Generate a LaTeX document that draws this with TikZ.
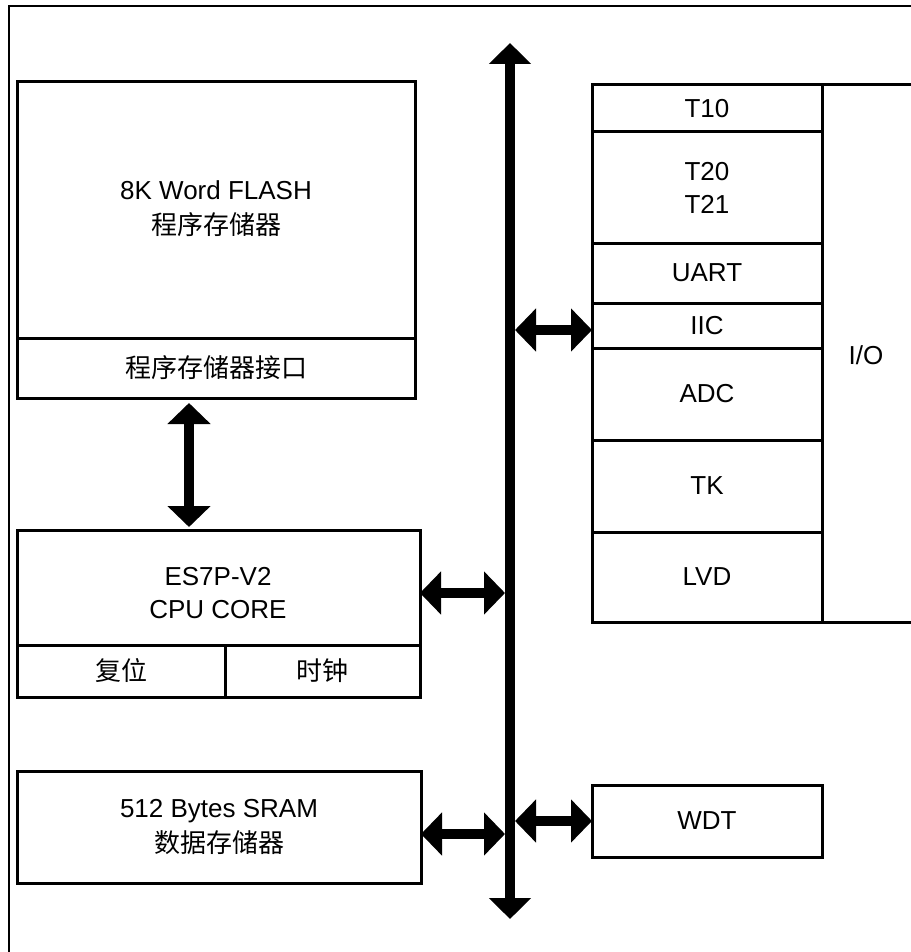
\documentclass[tikz,border=0pt]{standalone}
\usepackage{fontspec}
\setmainfont{Liberation Sans}
\newfontfamily\cjk{Noto Sans CJK SC}
\usetikzlibrary{arrows.meta}
\begin{document}
\begin{tikzpicture}[x=1pt,y=-1pt,
  box/.style={draw,line width=3pt},
  lbl/.style={font=\fontsize{26}{33}\selectfont,align=center,inner sep=0pt},
  fat/.style={line width=10pt,{Triangle[width=42pt,length=21pt]}-{Triangle[width=42pt,length=21pt]}},
  busline/.style={line width=10pt,{Triangle[width=41pt,length=21pt]}-{Triangle[width=41pt,length=21pt]}}]
\useasboundingbox (0,0) rectangle (910,952);
\fill[white] (0,0) rectangle (910,952);
% frame
\draw[line width=2pt] (9,960) -- (9,6) -- (920,6);
% flash
\draw[box] (17,82) rectangle (415,338);
\node[lbl] (flash) at (216,209) {8K Word FLASH\\[2pt]{\cjk 程序存储器}};
\draw[box] (17,338) rectangle (415,398);
\node[lbl] (flashif) at (216,368) {\cjk 程序存储器接口};
\coordinate (fa) at (189,403);
\coordinate (fb) at (189,527);
% cpu
\draw[box] (17,530) rectangle (420,645);
\node[lbl] (cpu) at (218,593) {ES7P-V2\\CPU CORE};
\draw[box] (17,645) rectangle (225,697);
\draw[box] (225,645) rectangle (420,697);
\node[lbl] (rst) at (121,671) {\cjk 复位};
\node[lbl] (clk) at (322,671) {\cjk 时钟};
\coordinate (cpuE) at (420,593);
% sram
\draw[box] (17,771) rectangle (421,883);
\node[lbl] (sram) at (219,827) {512 Bytes SRAM\\[2pt]{\cjk 数据存储器}};
\coordinate (sramE) at (421,834);
% bus
\coordinate (busT) at (510,43);
\coordinate (busB) at (510,919);
\draw[busline] (busT) -- (busB);
\coordinate (busCpu) at (505,593);
\coordinate (busSram) at (505,834);
\coordinate (busIic) at (515,330);
\coordinate (busWdt) at (515,821);
% right block
\draw[box] (592,85) rectangle (822,622);
\draw[line width=3pt] (822,85) -- (920,85);
\draw[line width=3pt] (822,622) -- (920,622);
\foreach \yy in {132,243,303,348,440,532} \draw[line width=3pt] (592,\yy) -- (822,\yy);
\node[lbl] (t10) at (707,108.5) {T10};
\node[lbl] (t20) at (707,187.5) {T20\\T21};
\node[lbl] (uart) at (707,273) {UART};
\node[lbl] (iic) at (707,325.5) {IIC};
\node[lbl] (adc) at (707,394) {ADC};
\node[lbl] (tk) at (707,486) {TK};
\node[lbl] (lvd) at (707,577) {LVD};
\node[lbl] (io) at (866,355) {I/O};
\coordinate (iicW) at (592,330);
% wdt
\draw[box] (592,785) rectangle (822,857);
\node[lbl] (wdt) at (707,821) {WDT};
\coordinate (wdtW) at (592,821);
% arrows
\draw[fat] (fa) -- (fb);
\draw[fat] (cpuE) -- (busCpu);
\draw[fat] (sramE) -- (busSram);
\draw[fat] (busIic) -- (iicW);
\draw[fat] (busWdt) -- (wdtW);
\end{tikzpicture}
\end{document}
